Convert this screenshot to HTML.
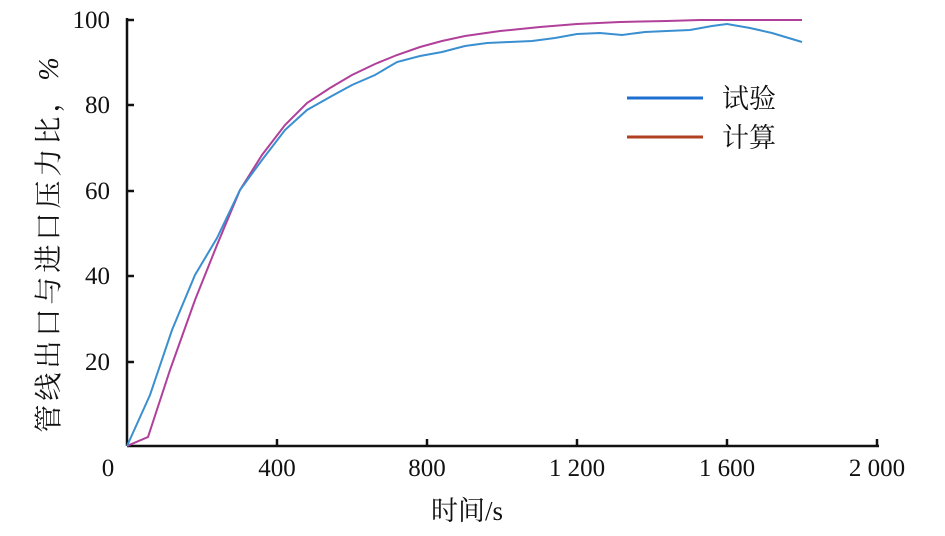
<!DOCTYPE html>
<html><head><meta charset="utf-8"><style>
body{margin:0;background:#fff}
text{font-family:"Liberation Serif","Noto Serif CJK SC",serif;fill:#111}
</style></head><body>
<svg width="945" height="531" viewBox="0 0 945 531" xmlns="http://www.w3.org/2000/svg">
<g stroke="#111" stroke-width="2.5" fill="none">
<line x1="127" y1="446" x2="879" y2="446"/>
<line x1="127" y1="446" x2="127" y2="18"/>
<line x1="277" y1="446" x2="277" y2="439"/>
<line x1="427" y1="446" x2="427" y2="439"/>
<line x1="577" y1="446" x2="577" y2="439"/>
<line x1="727" y1="446" x2="727" y2="439"/>
<line x1="877" y1="446" x2="877" y2="439"/>
<line x1="127" y1="20" x2="134" y2="20"/>
<line x1="127" y1="105" x2="134" y2="105"/>
<line x1="127" y1="191" x2="134" y2="191"/>
<line x1="127" y1="276" x2="134" y2="276"/>
<line x1="127" y1="362" x2="134" y2="362"/>
</g>
<g font-size="25">
<text x="108" y="476" text-anchor="middle">0</text>
<text x="277" y="476" text-anchor="middle">400</text>
<text x="427" y="476" text-anchor="middle">800</text>
<text x="577" y="476" text-anchor="middle">1 200</text>
<text x="727" y="476" text-anchor="middle">1 600</text>
<text x="877" y="476" text-anchor="middle">2 000</text>
<text x="110" y="28" text-anchor="end">100</text>
<text x="110" y="113" text-anchor="end">80</text>
<text x="110" y="199" text-anchor="end">60</text>
<text x="110" y="284" text-anchor="end">40</text>
<text x="110" y="370" text-anchor="end">20</text>
<text x="467" y="520" text-anchor="middle" font-size="27">时间/s</text>
<text transform="translate(58,243) rotate(-90)" text-anchor="middle" font-size="28" letter-spacing="4">管线出口与进口压力比，<tspan font-style="italic">%</tspan></text>
<text x="722" y="108" font-size="27">试验</text>
<text x="722" y="147" font-size="27">计算</text>
</g>
<polyline fill="none" stroke="#b0409a" stroke-width="2" points="127,446 148,437 170,370 195,300 217,245 240,190 262,155 285,125 307,103 330,88 352,75 375,64 397,55 420,47 442,41 465,36 500,31 540,27 577,24 620,22 667,21 700,20 802,20"/>
<polyline fill="none" stroke="#3a8fd0" stroke-width="2" points="127,446 150,395 172,330 195,275 217,238 240,190 262,160 285,130 307,110 330,97 352,85 375,75 397,62 420,56 442,52 465,46 487,43 510,42 532,41 555,38 577,34 600,33 622,35 645,32 667,31 690,30 712,26 727,24 750,28 772,33 802,42"/>
<line x1="627" y1="98" x2="703" y2="98" stroke="#1f6fd0" stroke-width="3"/>
<line x1="627" y1="137" x2="703" y2="137" stroke="#b04020" stroke-width="3"/>
</svg>
</body></html>
